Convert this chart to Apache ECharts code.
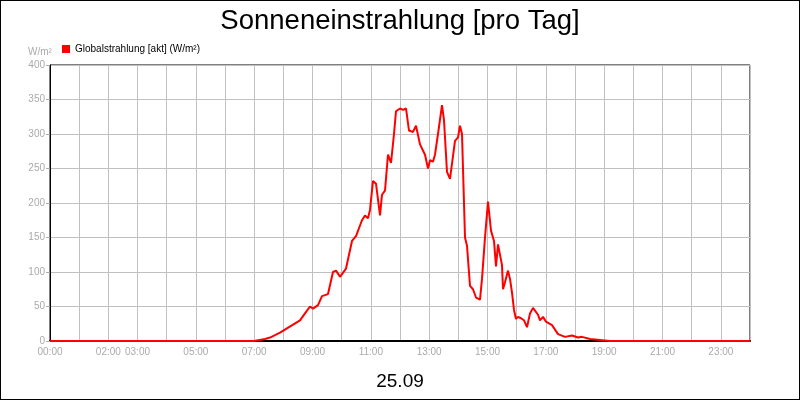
<!DOCTYPE html><html><head><meta charset="utf-8"><script src="https://cdn.jsdelivr.net/npm/echarts@6/dist/echarts.min.js"></script>
<style>html,body{margin:0;padding:0}#c{width:798px;height:398px;border:1px solid #000}</style></head><body><div id="c"></div><script>
const px=[50,254,265,270,280,300,305,310,313,318,322,328,333,336,340,346,352,356,362,365,368,370,373,376,378,380,382,385,388,391,394,396,400,403,406,409,413,416,420,425,428,430,433,435,438,442,444,447,450,452,455,458,460,462,465,467,470,473,476,480,482,485,488,491,494,496,498,500,502,503,505,508,510,512,514,516,518,521,524,527,530,533,535,538,540,543,546,552,558,565,572,578,582,590,610,750];
const values=[0,0,3,5,12,30,40,50,47,52,65,68,100,102,93,105,145,152,175,182,178,190,232,228,230,182,212,218,270,258,300,333,337,335,337,305,303,312,285,270,250,262,260,270,300,342,320,245,235,233,290,295,312,300,150,138,80,75,63,60,90,150,202,160,145,108,140,138,110,75,85,102,90,70,45,32,35,33,30,20,40,48,50,38,30,35,28,23,10,6,8,5,6,3,0,0];
const hours=px.map(p=>(p-50)/700*24);
const shownLabels=[0,2,3,5,7,9,11,13,15,17,19,21,23];
const ch=echarts.init(document.getElementById('c'));
const g='#aaa';
ch.setOption({
 animation:false,
 title:[{text:'Sonneneinstrahlung [pro Tag]',left:'center',top:1,textStyle:{fontFamily:'Liberation Sans',fontSize:27.5,fontWeight:'normal',color:'#000'}},
  {text:'25.09',left:'center',top:366,textStyle:{fontFamily:'Liberation Sans',fontSize:19,fontWeight:'normal',color:'#000'}},
  {text:'W/m²',left:22,top:41,textStyle:{fontFamily:'Liberation Sans',fontSize:10,fontWeight:'normal',color:g}}],
 legend:{left:56,top:38,itemWidth:8,itemHeight:8,icon:'rect',textStyle:{fontFamily:'Liberation Sans',fontSize:10,color:'#000'},data:['Globalstrahlung [akt] (W/m²)']},
 grid:{left:49,right:49,top:64,bottom:58,show:true,borderColor:'#000',borderWidth:1},
 xAxis:{type:'value',min:0,max:24,interval:1,axisLine:{lineStyle:{color:'#000',width:2}},axisTick:{show:false},
  splitLine:{lineStyle:{color:'#c0c0c0'}},
  axisLabel:{color:g,fontFamily:'Liberation Sans',fontSize:10,margin:6,formatter:v=>shownLabels.includes(v)?String(v).padStart(2,'0')+':00':''}},
 yAxis:{type:'value',min:0,max:400,interval:50,axisLine:{show:true,lineStyle:{color:'#000'}},axisTick:{show:true,length:4,lineStyle:{color:g}},
  splitLine:{lineStyle:{color:'#c0c0c0'}},axisLabel:{color:g,fontFamily:'Liberation Sans',fontSize:10,margin:5}},
 series:[{name:'Globalstrahlung [akt] (W/m²)',type:'line',showSymbol:false,color:'#ff0000',lineStyle:{width:2},data:hours.map((h,i)=>[h,values[i]])}]
});
</script></body></html>
